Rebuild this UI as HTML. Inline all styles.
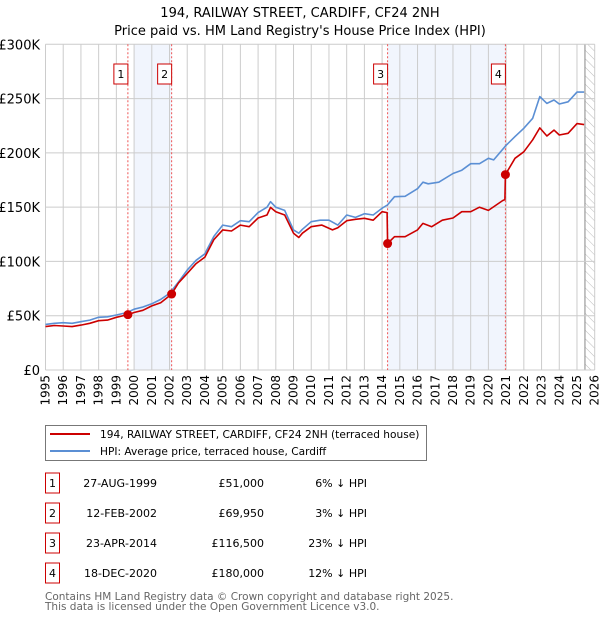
<!DOCTYPE html>
<html><head><meta charset="utf-8"><style>
body{margin:0;background:#fff;font-family:"DejaVu Sans","Liberation Sans",sans-serif}
svg text{font-family:"DejaVu Sans","Liberation Sans",sans-serif}
</style></head><body>
<svg id="c" width="600" height="620" xmlns="http://www.w3.org/2000/svg">
<defs><pattern id="hatch" width="6" height="6" patternUnits="userSpaceOnUse" patternTransform="rotate(-45)"><line x1="0" y1="0" x2="0" y2="6" stroke="#bbb" stroke-width="1"/></pattern></defs>
<text x="300" y="17" text-anchor="middle" font-size="13">194, RAILWAY STREET, CARDIFF, CF24 2NH</text>
<text x="300" y="35" text-anchor="middle" font-size="13">Price paid vs. HM Land Registry's House Price Index (HPI)</text>
<g id="plot"></g>
<g>
<rect x="45.5" y="425.5" width="381" height="35" fill="#fff" stroke="#777"/>
<line x1="50" y1="434" x2="90" y2="434" stroke="#cc0000" stroke-width="2"/>
<text x="100" y="438" font-size="10.6">194, RAILWAY STREET, CARDIFF, CF24 2NH (terraced house)</text>
<line x1="50" y1="451" x2="90" y2="451" stroke="#5b8fd4" stroke-width="2"/>
<text x="100" y="455" font-size="10.6">HPI: Average price, terraced house, Cardiff</text>
</g>
<g id="tbl" font-size="11"></g>
<text x="45" y="600" font-size="10.5" fill="#666">Contains HM Land Registry data © Crown copyright and database right 2025.</text>
<text x="45" y="610" font-size="10.5" fill="#666">This data is licensed under the Open Government Licence v3.0.</text>
</svg>
<script>
const hpiYears=[1995,1995.5,1996,1996.5,1997,1997.5,1998,1998.5,1999,1999.6,2000,2000.5,2001,2001.5,2002,2002.5,2003,2003.5,2004,2004.5,2005,2005.5,2006,2006.5,2007,2007.5,2007.7,2008,2008.5,2009,2009.3,2009.5,2010,2010.5,2011,2011.5,2012,2012.5,2013,2013.5,2014,2014.3,2014.7,2015.3,2016,2016.3,2016.6,2017.2,2018,2018.5,2019,2019.5,2020,2020.3,2021,2021.5,2022,2022.5,2022.9,2023.3,2023.7,2024,2024.5,2025,2025.4];
const hpiValues=[42,43,43.6,43,44.5,46,48.5,49,50.7,53,56,58,61,65,70.6,81,92,101,107,123,133.5,132,137.5,136.6,145,150,155,150,147,129,126,129.6,136.6,138,138,133.5,142.8,140.6,144,142.8,149,152,159.6,160,167,173,171.5,173,181,184,190,190,195,193.5,207,215,222.6,231.8,251.8,245.6,248.7,245,247,256,256];
const redYears=[1995,1995.5,1996,1996.5,1997,1997.5,1998,1998.5,1999,1999.65,2000,2000.5,2001,2001.5,2002.12,2002.5,2003,2003.5,2004,2004.5,2005,2005.5,2006,2006.5,2007,2007.5,2007.7,2008,2008.5,2009,2009.3,2009.5,2010,2010.6,2011.2,2011.5,2012,2012.5,2013,2013.5,2014,2014.28,2014.31,2014.7,2015.3,2016,2016.3,2016.8,2017.4,2018,2018.5,2019,2019.5,2020,2020.8,2020.93,2020.96,2021.5,2022,2022.5,2022.9,2023.3,2023.7,2024,2024.5,2025,2025.4];
const redValues=[40,41,40.5,40,41.4,43,45.4,46,48.5,51,53,55,59,62,69.95,80,89,98,104,120,129,128,133.5,132,140,142.8,149.8,145.8,142.8,126,122,126,132,133.5,129,131,137.5,138.8,139.7,138,145.8,145,116.5,122.8,122.8,129,135,132,138,140,145.8,145.8,150,147,156,157,180,195,201,212,223,215.5,221,216.5,218,227,226];
const saleLabels=["1","2","3","4"];
const saleYears=[1999.65,2002.12,2014.31,2020.96];
const salePrices=[51,69.95,116.5,180];
const saleDates=["27-AUG-1999","12-FEB-2002","23-APR-2014","18-DEC-2020"];
const salePriceText=["£51,000","£69,950","£116,500","£180,000"];
const salePctText=["6% ↓ HPI","3% ↓ HPI","23% ↓ HPI","12% ↓ HPI"];
const shadeStarts=[2000,2014.31];
const shadeEnds=[2002.12,2020.96];
const yTicks=[0,50,100,150,200,250,300];
const yTickLabels=["£0","£50K","£100K","£150K","£200K","£250K","£300K"];
const xTicks=[1995,1996,1997,1998,1999,2000,2001,2002,2003,2004,2005,2006,2007,2008,2009,2010,2011,2012,2013,2014,2015,2016,2017,2018,2019,2020,2021,2022,2023,2024,2025,2026];
const x0=45.5,x1=594.7,y0=370,yTop=44.3;
const X=v=>x0+(v-1995)*(x1-x0)/31;
const Y=v=>y0-v*(y0-yTop)/300;
const NS="http://www.w3.org/2000/svg";
const P=document.getElementById('plot');
function mk(t,a,par){const e=document.createElementNS(NS,t);for(const k in a)e.setAttribute(k,a[k]);(par||P).appendChild(e);return e;}
shadeStarts.forEach((s,i)=>{const r=mk('rect',{x:X(s),y:yTop,width:X(shadeEnds[i])-X(s),height:y0-yTop,fill:'#eef3fc',opacity:0.8});

});
const hx=X(2025.45);
const hr=mk('rect',{x:hx,y:yTop,width:x1-hx,height:y0-yTop,fill:'url(#hatch)'});


mk('line',{x1:hx,y1:yTop,x2:hx,y2:y0,stroke:'#888','stroke-width':1});
xTicks.forEach(t=>{const l=mk('line',{x1:X(t),y1:yTop,x2:X(t),y2:y0,stroke:'#ccc','stroke-width':1});


const tx=mk('text',{x:0,y:0,'font-size':12,'text-anchor':'end',transform:`translate(${X(t)+4},${y0+5}) rotate(-90)`});tx.textContent=t;

});
yTicks.forEach((t,i)=>{const l=mk('line',{x1:x0,y1:Y(t),x2:x1,y2:Y(t),stroke:'#ccc','stroke-width':1});


const tx=mk('text',{x:40,y:Y(t)+5,'font-size':13,'text-anchor':'end'});tx.textContent=yTickLabels[i];

});
saleYears.forEach((s,i)=>{const l=mk('line',{x1:X(s),y1:yTop,x2:X(s),y2:y0,stroke:'#e55','stroke-width':1,'stroke-dasharray':'2,2'});

});
function path(xs,vs,col,name){const d=xs.map((x,i)=>(i?'L':'M')+X(x).toFixed(1)+','+Y(vs[i]).toFixed(1)).join('');
const p=mk('path',{d:d,fill:'none',stroke:col,'stroke-width':1.6,'stroke-linejoin':'round'});

}
path(hpiYears,hpiValues,'#5b8fd4','hpi-line');
path(redYears,redValues,'#cc0000','property-price-line');
saleYears.forEach((s,i)=>{const c=mk('circle',{cx:X(s),cy:Y(salePrices[i]),r:4.5,fill:'#cc0000'});


const g=mk('g',{});
mk('rect',{x:X(s)-14,y:64,width:14,height:20,fill:'#fff',stroke:'#cc0000'},g);
const t=mk('text',{x:X(s)-7,y:78,'font-size':11,'text-anchor':'middle'},g);t.textContent=saleLabels[i];

});
const T=document.getElementById('tbl');
saleLabels.forEach((lab,i)=>{const cy=483+i*30;const g=mk('g',{},T);
mk('rect',{x:45.5,y:cy-10,width:14,height:20,fill:'#fff',stroke:'#cc0000'},g);
const a=mk('text',{x:52.5,y:cy+4,'text-anchor':'middle'},g);a.textContent=lab;
const b=mk('text',{x:157,y:cy+4,'text-anchor':'end'},g);b.textContent=saleDates[i];
const c=mk('text',{x:264,y:cy+4,'text-anchor':'end'},g);c.textContent=salePriceText[i];
const d=mk('text',{x:367,y:cy+4,'text-anchor':'end'},g);d.textContent=salePctText[i];

});
</script>
</body></html>
